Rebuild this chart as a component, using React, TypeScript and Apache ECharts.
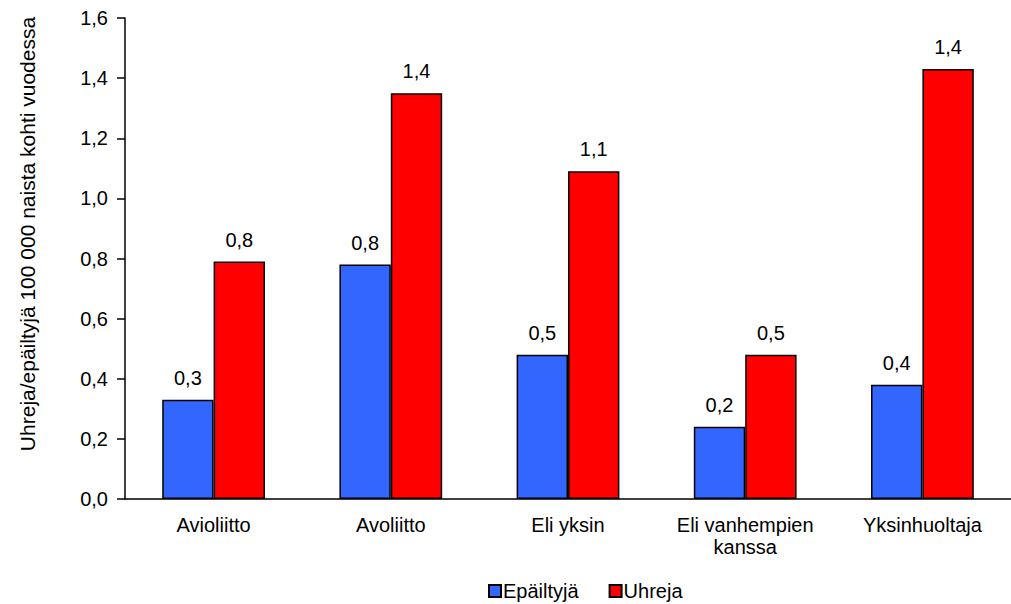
import React, { useEffect, useRef } from "react";
import * as echarts from "echarts";

const categories = ["Avioliitto", "Avoliitto", "Eli yksin", "Eli vanhempien\nkanssa", "Yksinhuoltaja"];
const suspects = [0.33, 0.78, 0.48, 0.24, 0.38];
const victims = [0.79, 1.35, 1.09, 0.48, 1.43];
const yTicks = [0, 0.2, 0.4, 0.6, 0.8, 1.0, 1.2, 1.4, 1.6];

const FONT = "'Liberation Sans', Arial, sans-serif";
const FS = 20;
const fmt = (v: number) => v.toFixed(1).replace(".", ",");

export default function App() {
  const ref = useRef<HTMLDivElement>(null);
  useEffect(() => {
    const chart = echarts.init(ref.current!, undefined, { renderer: "svg" });
    const label = {
      show: true,
      position: "top" as const,
      distance: 12,
      fontFamily: FONT,
      fontSize: FS,
      color: "#000",
      formatter: (p: any) => fmt(p.value),
    };
    chart.setOption({
      animation: false,
      backgroundColor: "#fff",
      textStyle: { fontFamily: FONT },
      grid: { left: 125, top: 18, width: 897.5, height: 481, containLabel: false },
      xAxis: {
        type: "category",
        data: categories,
        axisLine: { lineStyle: { color: "#000", width: 1.5 } },
        axisTick: { show: false },
        axisLabel: { interval: 0, color: "#000", fontSize: FS, fontFamily: FONT, margin: 15, lineHeight: 22 },
      },
      yAxis: {
        type: "value",
        min: 0,
        max: 1.6,
        interval: 0.2,
        splitLine: { show: false },
        axisLine: { show: true, lineStyle: { color: "#000", width: 1.5 } },
        axisTick: { show: true, length: 8, lineStyle: { color: "#000", width: 1.5 } },
        axisLabel: {
          color: "#000",
          fontSize: FS,
          fontFamily: FONT,
          margin: 17,
          formatter: (v: number) => {
            const t = yTicks.find((x) => Math.abs(x - v) < 1e-6);
            return fmt(t ?? v);
          },
        },
      },
      legend: {
        top: 581,
        left: 488,
        padding: 0,
        itemWidth: 12,
        itemHeight: 12,
        itemGap: 30,
        icon: "rect",
        itemStyle: { borderColor: "#000", borderWidth: 2 },
        textStyle: { color: "#000", fontSize: FS, fontFamily: FONT, padding: [0, 0, 0, -3] },
        data: ["Epäiltyjä", "Uhreja"],
      },
      graphic: [
        {
          type: "text",
          x: 27,
          y: 234,
          rotation: Math.PI / 2,
          style: {
            text: "Uhreja/epäiltyjä 100 000 naista kohti vuodessa",
            fontFamily: FONT,
            fontSize: 21,
            fill: "#000",
            align: "center",
            verticalAlign: "middle",
          },
        },
      ],
      series: [
        {
          name: "Epäiltyjä",
          type: "bar",
          data: suspects,
          barGap: "0%",
          barCategoryGap: "42%",
          itemStyle: { color: "#3366FF", borderColor: "#000", borderWidth: 1.5 },
          label,
        },
        {
          name: "Uhreja",
          type: "bar",
          data: victims,
          itemStyle: { color: "#FF0000", borderColor: "#000", borderWidth: 1.5 },
          label,
        },
      ],
    });
    return () => chart.dispose();
  }, []);
  return (
    <div
      ref={ref}
      style={{ position: "absolute", left: 0, top: 0, width: 1011, height: 604, overflow: "hidden" }}
    />
  );
}
